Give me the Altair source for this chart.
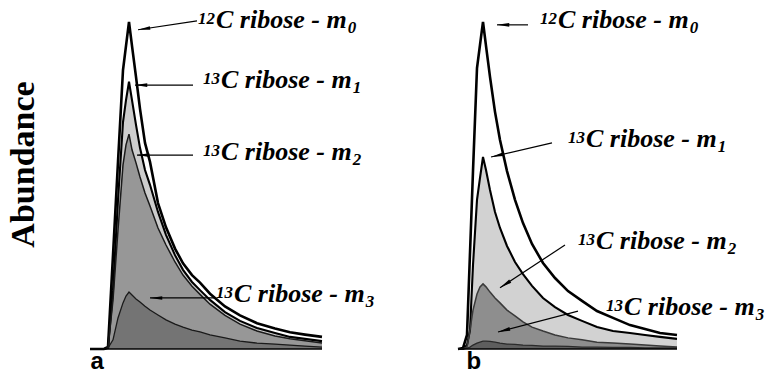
import math
import altair as alt
import pandas as pd

# ---- Panel a: retention time (arbitrary units) and abundance (% of m0 apex)
time_a = [0, 1.4, 1.8, 2.3, 2.8, 3.3, 3.6, 3.9, 4.2, 4.6, 5.0, 5.5, 6.0, 6.8, 7.6,
          8.5, 9.3, 10.2, 11.0, 12.0, 13.5, 15.0, 16.7, 18.5, 20.0, 21.5, 23.2]
m0_a = [0, 0, 0.6, 28.7, 57.2, 85.3, 92.7, 100, 92.7, 83.2, 73.4, 63.0, 57.2, 44.6, 37.2,
        30.7, 26.2, 22.6, 20.3, 16.9, 13.0, 10.3, 7.9, 6.3, 5.1, 4.4, 3.7]
m1_a = [0, 0, 0.3, 18.0, 45.6, 69.4, 76.1, 81.7, 76.1, 68.5, 61.5, 54.7, 50.2, 41.9, 34.9,
        28.7, 24.2, 20.5, 18.0, 15.0, 11.3, 8.6, 6.4, 4.9, 3.7, 3.1, 2.4]
m2_a = [0, 0, 0.3, 15.0, 36.4, 56.3, 62.4, 65.7, 60.9, 56.9, 52.6, 47.7, 43.7, 37.0, 31.8,
        26.6, 22.6, 19.2, 16.7, 13.7, 10.3, 7.6, 5.5, 4.0, 3.1, 2.5, 1.8]
m3_a = [0, 0, 0.3, 2.8, 9.5, 14.1, 16.2, 17.4, 16.5, 15.3, 14.4, 13.1, 11.9, 10.4, 8.9,
        7.6, 6.7, 5.8, 5.2, 4.3, 3.4, 2.4, 1.8, 1.5, 1.2, 0.9, 0.6]

# ---- Panel b
time_b = [0.3, 0.8, 1.2, 1.5, 1.8, 2.2, 2.5, 2.8, 3.1, 3.5, 4.0, 4.5, 5.2, 6.0, 6.8,
          7.7, 8.8, 10.0, 11.3, 12.7, 14.2, 15.8, 17.5, 19.0, 20.5, 22.2]
m0_b = [0, 0.3, 4.3, 29.4, 54.4, 85.9, 93.0, 100, 92.7, 83.2, 72.5, 63.9, 54.4, 45.6, 38.5,
        32.1, 26.3, 21.7, 17.7, 14.7, 11.6, 9.5, 7.3, 6.1, 4.9, 4.3]
m1_b = [0, 0, 1.2, 5.8, 25.7, 45.6, 52.3, 58.7, 54.7, 48.6, 41.9, 37.0, 31.5, 26.6, 22.9,
        19.3, 15.6, 12.8, 10.4, 8.6, 6.7, 5.5, 4.9, 4.3, 3.7, 3.1]
m2_b = [0, 0, 0.6, 5.8, 11.9, 16.8, 19.0, 19.9, 19.0, 17.4, 15.6, 14.1, 11.9, 10.1, 8.3,
        6.7, 5.5, 4.3, 3.4, 2.8, 2.1, 1.8, 1.5, 1.2, 0.9, 0.6]
m3_b = [0, 0, 0.3, 0.6, 1.2, 1.8, 2.1, 2.4, 2.4, 2.3, 2.1, 1.8, 1.5, 1.4, 1.2,
        1.1, 0.9, 0.9, 0.8, 0.6, 0.6, 0.5, 0.5, 0.3, 0.3, 0.3]

# ---- Annotations: isotopomer labels (mass shift notation) and their arrows
iso_sup = ["12", "13", "13", "13"]
iso_sub = ["0", "1", "2", "3"]
label_main = "C ribose - m"

label_t_a = [12.6, 13.1, 13.1, 14.4]
label_v_a = [98.2, 79.8, 57.8, 14.4]
arrow_tail_t_a = [10.7, 10.3, 10.3, 12.5]
arrow_tail_v_a = [100.3, 80.7, 59.3, 15.6]
arrow_tip_t_a = [4.8, 4.5, 4.7, 6.0]
arrow_tip_v_a = [97.6, 80.7, 59.3, 15.6]

label_t_b = [10.3, 13.1, 14.1, 16.9]
label_v_b = [98.2, 61.8, 30.6, 10.4]
arrow_tail_t_b = [7.3, 9.7, 11.0, 12.3]
arrow_tail_v_b = [99.1, 63.0, 31.8, 11.6]
arrow_tip_t_b = [4.2, 3.6, 4.5, 4.3]
arrow_tip_v_b = [99.1, 58.7, 18.7, 5.2]

fills_a = ["#ffffff", "#cdcdcd", "#979797", "#747474"]
fills_b = ["#ffffff", "#d2d2d2", "#8e8e8e", "#5e5e5e"]
line_colors_a = ["#000000", "#000000", "#1a1a1a", "#1a1a1a"]
line_colors_b = ["#000000", "#000000", "#3a3a3a", "#2a2a2a"]
line_widths = [2.6, 2.1, 1.5, 1.3]

H = 349
V_MAX = 106.7
SERIF = "Liberation Serif"
SANS = "Liberation Sans"
ARROW_HEAD = "M0,0L-0.3,2L0.3,2Z"
LABEL_SIZE = 26
INDEX_SIZE = 17


def panel(time, series, fills, line_colors, lab_t, lab_v, tail_t, tail_v, tip_t, tip_v,
          width, t_max, letter, letter_x, show_y):
    xs = alt.Scale(domain=[0, t_max], nice=False, zero=False)
    ys = alt.Scale(domain=[0, V_MAX], nice=False)
    x_axis = alt.Axis(title=letter, domain=False, ticks=False, labels=False, grid=False,
                      titleFont=SANS, titleFontSize=24, titleFontWeight="bold",
                      titleColor="black", titleAlign="left", titleAnchor="start",
                      titleBaseline="bottom", titleX=letter_x, titleY=24)
    if show_y:
        y_axis = alt.Axis(title="Abundance", domain=False, ticks=False, labels=False,
                          grid=False, titleFont=SERIF, titleFontSize=34,
                          titleFontWeight="bold", titleColor="black", titleAngle=270,
                          titleAlign="center", titleBaseline="alphabetic",
                          titleX=-57, titleY=164)
    else:
        y_axis = None

    def X(field="t"):
        return alt.X(f"{field}:Q", scale=xs, axis=x_axis)

    def Y(field="v"):
        return alt.Y(f"{field}:Q", scale=ys, axis=y_axis)

    layers = []
    # filled peaks, outermost first
    for vals, fill in zip(series, fills):
        df = pd.DataFrame({"t": time, "v": vals})
        layers.append(alt.Chart(df).mark_area(fill=fill, opacity=1, interpolate="linear")
                      .encode(x=X(), y=Y()))
    # peak outlines on top
    for vals, col, w in zip(series, line_colors, line_widths):
        df = pd.DataFrame({"t": time, "v": vals})
        layers.append(alt.Chart(df).mark_line(color=col, strokeWidth=w, interpolate="linear",
                                              strokeJoin="miter")
                      .encode(x=X(), y=Y()))
    # baseline under the peaks
    base = pd.DataFrame({"t": [time[0]], "t2": [time[-1]], "v": [0]})
    layers.append(alt.Chart(base).mark_rule(color="black", strokeWidth=1.6)
                  .encode(x=X(), x2="t2:Q", y=Y()))

    # arrows: shaft plus a narrow filled head pointing along the shaft
    px_t = width / t_max
    px_v = H / V_MAX
    ang = []
    for a, b, c, d in zip(tail_t, tail_v, tip_t, tip_v):
        dx = (c - a) * px_t
        dy = -(d - b) * px_v
        ang.append(math.degrees(math.atan2(dx, -dy)) % 360)
    arr = pd.DataFrame({"t": tip_t, "v": tip_v, "t2": tail_t, "v2": tail_v, "ang": ang})
    layers.append(alt.Chart(arr).mark_rule(color="black", strokeWidth=1.2)
                  .encode(x=X(), x2="t2:Q", y=Y(), y2="v2:Q"))
    layers.append(alt.Chart(arr).mark_point(shape=ARROW_HEAD, filled=True, fill="black",
                                            strokeWidth=0, opacity=1, size=150)
                  .encode(x=X(), y=Y(), angle=alt.Angle("ang:Q", scale=None)))

    # labels: superscript mass number, main text, subscript isotopomer index
    lab = pd.DataFrame({"t": lab_t, "v": lab_v, "sup": iso_sup, "sub": iso_sub,
                        "main": [label_main] * 4})
    txt = dict(font=SERIF, fontStyle="italic", fontWeight="bold", color="black",
               baseline="alphabetic")
    main_width = 5.028 * LABEL_SIZE  # advance width of "C ribose - m" in Times bold italic
    layers.append(alt.Chart(lab).mark_text(align="left", fontSize=LABEL_SIZE, **txt)
                  .encode(x=X(), y=Y(), text="main:N"))
    layers.append(alt.Chart(lab).mark_text(align="right", fontSize=INDEX_SIZE, dx=-1,
                                           dy=-4, **txt)
                  .encode(x=X(), y=Y(), text="sup:N"))
    layers.append(alt.Chart(lab).mark_text(align="left", fontSize=INDEX_SIZE,
                                           dx=main_width + 1, dy=5, **txt)
                  .encode(x=X(), y=Y(), text="sub:N"))

    return alt.layer(*layers).properties(width=width, height=H)


panel_a = panel(time_a, [m0_a, m1_a, m2_a, m3_a], fills_a, line_colors_a,
                label_t_a, label_v_a, arrow_tail_t_a, arrow_tail_v_a,
                arrow_tip_t_a, arrow_tip_v_a, 270, 27.0, "a", 0, True)
panel_b = panel(time_b, [m0_b, m1_b, m2_b, m3_b], fills_b, line_colors_b,
                label_t_b, label_v_b, arrow_tail_t_b, arrow_tail_v_b,
                arrow_tip_t_b, arrow_tip_v_b, 306, 30.6, "b", 11, False)

chart = (alt.hconcat(panel_a, panel_b, spacing=95, bounds="flush")
         .properties(padding={"left": 6, "top": 0, "right": 0, "bottom": 0},
                     background="white")
         .configure_view(stroke=None))

chart.save("out.html", embed_options={"renderer": "svg", "actions": False})
